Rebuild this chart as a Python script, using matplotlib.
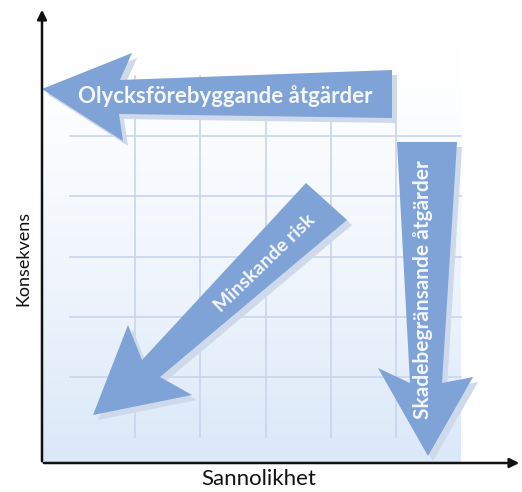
import numpy as np
import matplotlib.pyplot as plt
from matplotlib.patches import Polygon
from matplotlib.colors import LinearSegmentedColormap

W, H = 522, 492

x_label = 'Sannolikhet'
y_label = 'Konsekvens'
arrow_labels = ['Olycksförebyggande åtgärder', 'Minskande risk', 'Skadebegränsande åtgärder']
n_cols = 6
n_rows = 6

arrow_color = '#7fa3d7'
shadow_color = '#cfd9ec'
grid_color = '#c9d5ec'
font = ['Lato', 'DejaVu Sans']

fig = plt.figure(figsize=(W / 100, H / 100), dpi=100)
ax = fig.add_axes([0, 0, 1, 1])
ax.set_xlim(0, W)
ax.set_ylim(H, 0)
ax.axis('off')

# background gradient, white at top
grad = np.linspace(0, 1, 256).reshape(-1, 1) ** 1.4
cmap = LinearSegmentedColormap.from_list('bg', ['#ffffff', '#dae8f8'])
ax.imshow(grad, extent=(42, 461, 463, 40), cmap=cmap, aspect='auto', origin='upper', zorder=0)

# grid
gx0, gx1, gy0, gy1 = 70, 461, 76, 437
for i in range(1, n_cols):
    x = gx0 + (gx1 - gx0) * i / n_cols
    ax.plot([x, x], [gy0, gy1], color=grid_color, lw=1.2, zorder=1)
for j in range(1, n_rows):
    y = gy0 + (gy1 - gy0) * j / n_rows
    ax.plot([gx0, gx1], [y, y], color=grid_color, lw=1.2, zorder=1)

# axes with arrow heads
ax.annotate('', xy=(42, 7), xytext=(42, 464),
            arrowprops=dict(arrowstyle='-|>', color='#111111', lw=1.8, mutation_scale=14), zorder=5)
ax.annotate('', xy=(522, 463), xytext=(41, 463),
            arrowprops=dict(arrowstyle='-|>', color='#111111', lw=1.8, mutation_scale=14), zorder=5)


def big_arrow(pts):
    pts = np.array(pts, dtype=float)
    ax.add_patch(Polygon(pts + [5, 5], closed=True, fc=shadow_color, ec='none', zorder=2))
    ax.add_patch(Polygon(pts, closed=True, fc=arrow_color, ec='none', zorder=3))


big_arrow([(42, 89), (132, 53), (120, 80), (392, 70), (392, 118), (119, 114), (123, 141)])
big_arrow([(306, 183), (347, 220), (160, 377), (192, 395), (93, 415), (128, 325), (142, 360)])
big_arrow([(397, 142), (457, 142), (442, 383), (473, 377), (428, 456), (378, 368), (410, 383)])

txt = dict(color='#f4f7fc', fontweight='bold', family=font, ha='center', va='center', zorder=4)
ax.text(225, 96, arrow_labels[0], fontsize=16, **txt)
ax.text(265, 263, arrow_labels[1], fontsize=14, rotation=44, rotation_mode='anchor', **txt)
ax.text(423, 290, arrow_labels[2], fontsize=15, rotation=90, **txt)

ax.text(259, 479, x_label, fontsize=16, color='#111111', family=font, ha='center', va='center')
ax.text(23, 258, y_label, fontsize=13, color='#111111', family=font, ha='center', va='center', rotation=90)

fig.savefig('out.png', dpi=100)
